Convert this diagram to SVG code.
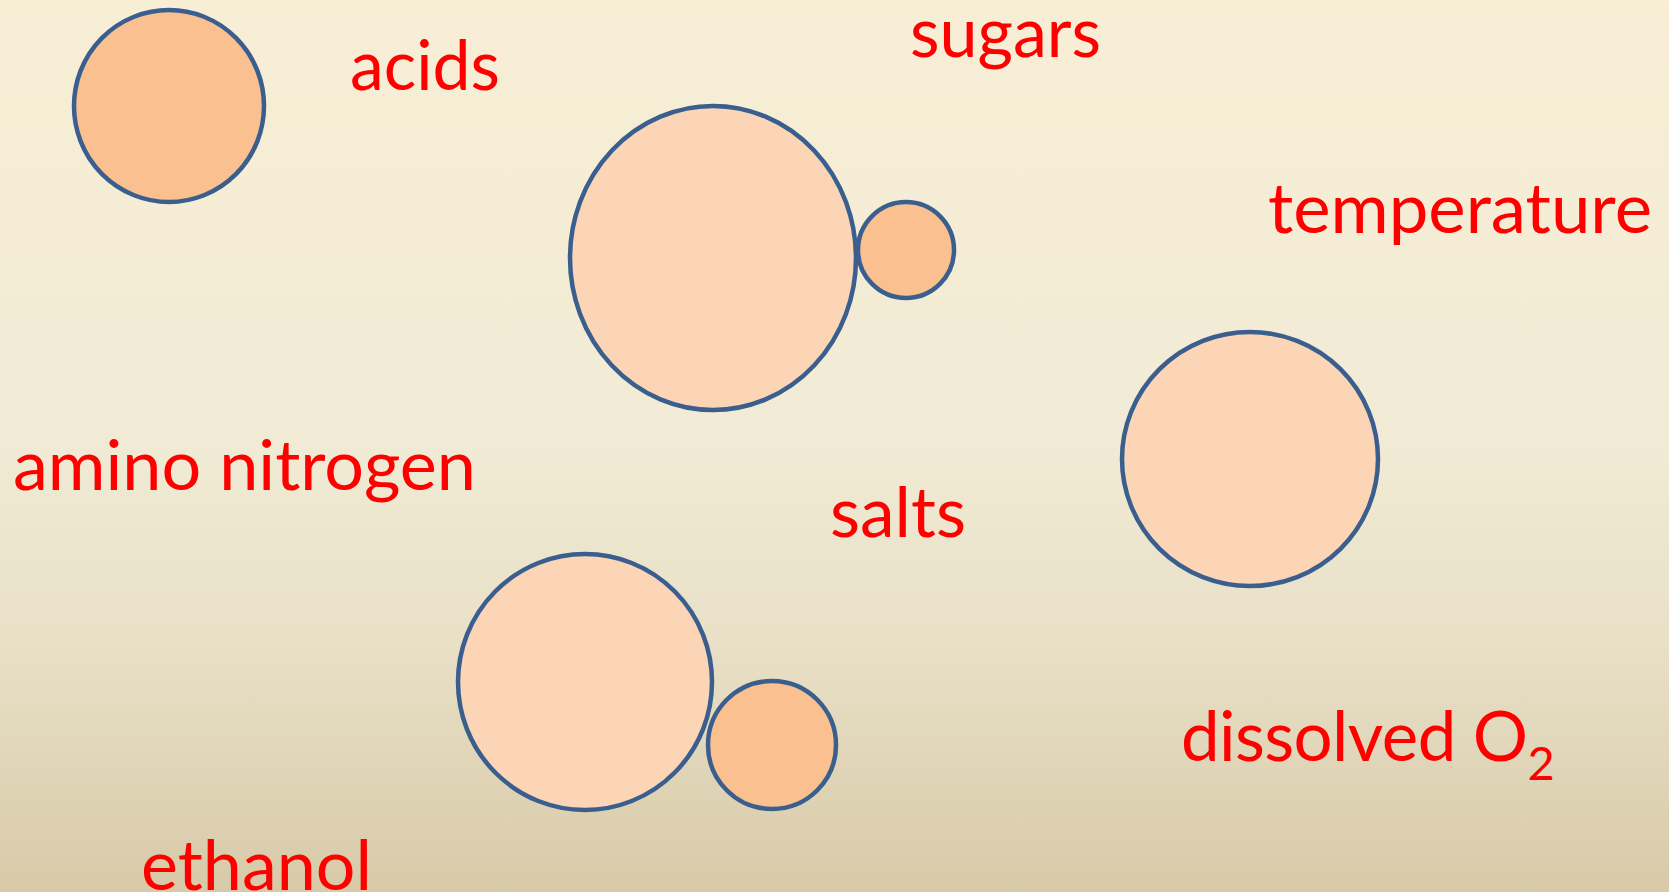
<svg xmlns="http://www.w3.org/2000/svg" width="1669" height="892" viewBox="0 0 1669 892">
<defs>
<linearGradient id="bg" x1="0" y1="0" x2="0" y2="1">
<stop offset="0" stop-color="#F8EED6"/>
<stop offset="0.5" stop-color="#F1EBD5"/>
<stop offset="0.72" stop-color="#E8E0C7"/>
<stop offset="1" stop-color="#D8CAA8"/>
</linearGradient>
<style>
.big{fill:#FBD5B5;stroke:#3A5F8F;stroke-width:4.5}
.small{fill:#FAC090;stroke:#3A5F8F;stroke-width:4.5}
.lbl{font-family:Lato,"Liberation Sans",sans-serif;font-size:69px;fill:#FF0000}
</style>
</defs>
<rect x="0" y="0" width="1669" height="892" fill="url(#bg)"/>
<g id="circle-topleft"><ellipse class="small" cx="169" cy="106" rx="95" ry="96"/></g>
<g id="ellipse-center"><ellipse class="big" cx="713" cy="258" rx="143" ry="152"/></g>
<g id="circle-center-small"><circle class="small" cx="906" cy="250" r="48"/></g>
<g id="circle-right"><ellipse class="big" cx="1250" cy="459" rx="128" ry="127"/></g>
<g id="circle-bottom"><ellipse class="big" cx="585" cy="682" rx="127" ry="128"/></g>
<g id="circle-bottom-small"><ellipse class="small" cx="772" cy="745" rx="64" ry="64"/></g>
<g id="connectors"></g>
<g id="label-acids"><text class="lbl" x="350" y="90" textLength="150" lengthAdjust="spacingAndGlyphs">acids</text></g>
<g id="label-sugars"><text class="lbl" x="910" y="57" textLength="191" lengthAdjust="spacingAndGlyphs">sugars</text></g>
<g id="label-temperature"><text class="lbl" x="1268" y="233" textLength="384" lengthAdjust="spacingAndGlyphs">temperature</text></g>
<g id="label-amino"><text class="lbl" x="13" y="490" textLength="463" lengthAdjust="spacingAndGlyphs">amino nitrogen</text></g>
<g id="label-salts"><text class="lbl" x="830" y="537" textLength="136" lengthAdjust="spacingAndGlyphs">salts</text></g>
<g id="label-dissolved"><text class="lbl" x="1181" y="761" style="letter-spacing:-0.6px">dissolved O<tspan dy="19" style="font-size:47px">2</tspan></text></g>
<g id="label-ethanol"><text class="lbl" x="141" y="890" textLength="231" lengthAdjust="spacingAndGlyphs">ethanol</text></g>
</svg>
